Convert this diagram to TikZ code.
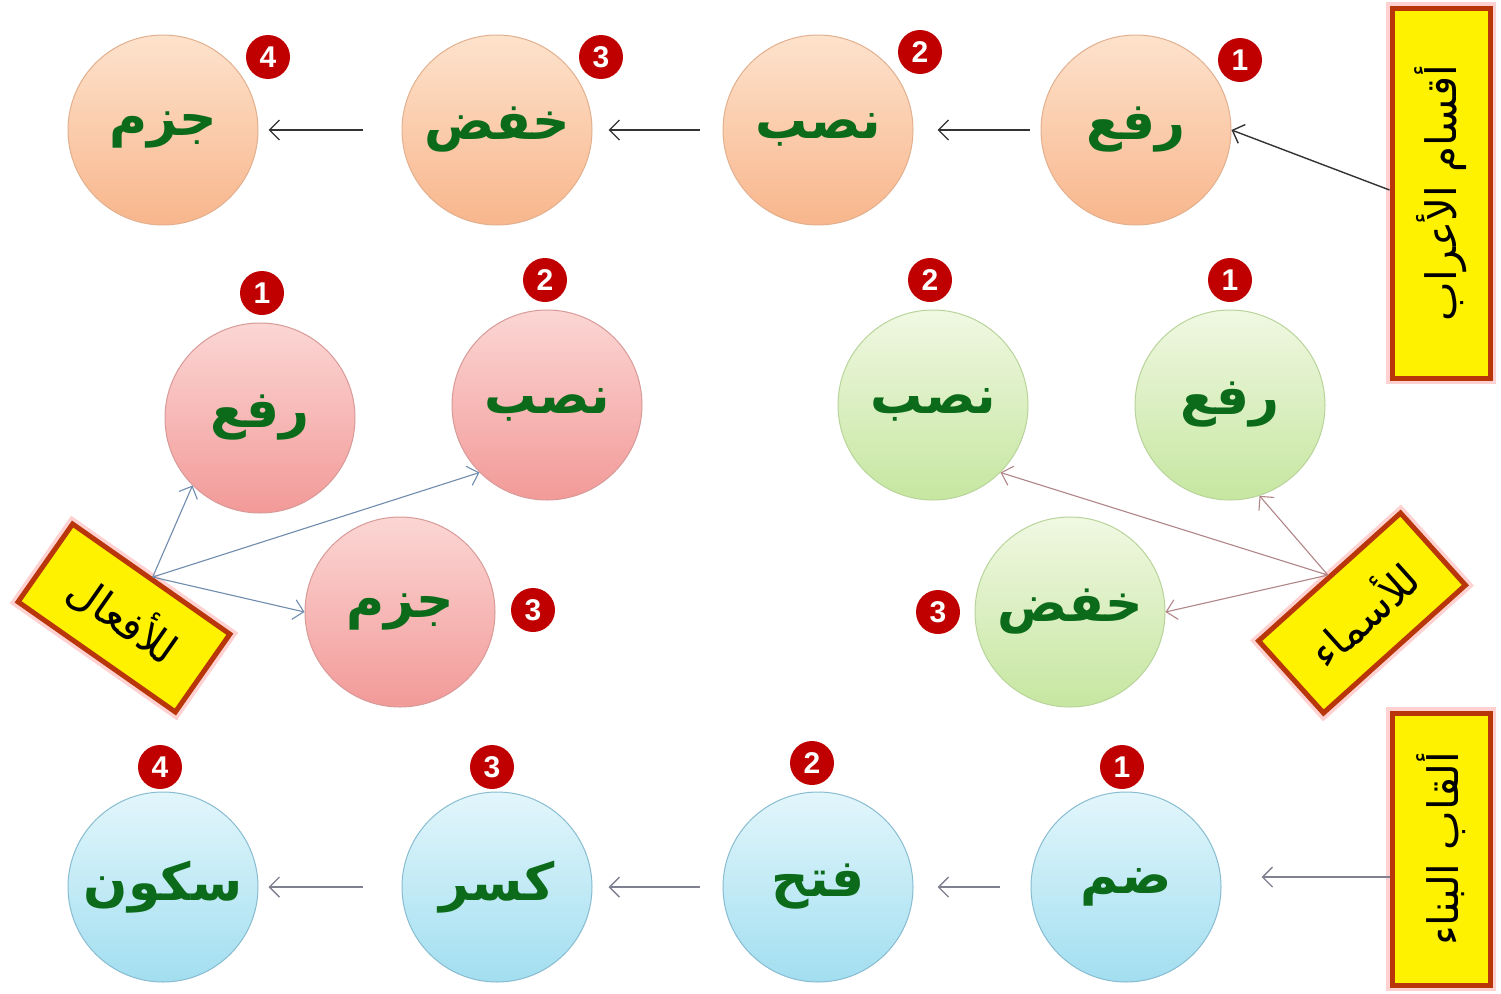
\documentclass[tikz,border=0pt]{standalone}
\usepackage{fontspec}
\newfontfamily\arabicfont[Script=Arabic]{DejaVu Sans}
\newfontfamily\numfont{Liberation Sans}
\TeXXeTstate=1
\usetikzlibrary{arrows.meta}
\definecolor{wordgreen}{HTML}{0B6B1A}
\definecolor{badgered}{HTML}{C00000}
\definecolor{boxborder}{HTML}{B8360A}
\definecolor{orangetop}{HTML}{FDE2CC}
\definecolor{orangebot}{HTML}{F8B68C}
\definecolor{orangeline}{HTML}{E2B08E}
\definecolor{redtop}{HTML}{FBD6D4}
\definecolor{redbot}{HTML}{F29A98}
\definecolor{redline}{HTML}{D89A98}
\definecolor{greentop}{HTML}{F0F8E2}
\definecolor{greenbot}{HTML}{C6E6A0}
\definecolor{greenline}{HTML}{B8D49A}
\definecolor{bluetop}{HTML}{E2F6FB}
\definecolor{bluebot}{HTML}{A2DEF0}
\definecolor{blueline}{HTML}{88BCD0}
\definecolor{arrowblue}{HTML}{6F8CAE}
\definecolor{arrowpink}{HTML}{B08588}
\definecolor{arrowgray}{HTML}{7F8090}
\begin{document}
\begin{tikzpicture}[x=1pt,y=-1pt,
  ball/.style={circle, minimum size=190pt, inner sep=0pt, line width=1pt,
    font=\arabicfont\bfseries\fontsize{52}{60}\selectfont, text=wordgreen},
  orangeball/.style={ball, top color=orangetop, bottom color=orangebot, draw=orangeline},
  redball/.style={ball, top color=redtop, bottom color=redbot, draw=redline},
  greenball/.style={ball, top color=greentop, bottom color=greenbot, draw=greenline},
  blueball/.style={ball, top color=bluetop, bottom color=bluebot, draw=blueline},
  badge/.style={circle, fill=badgered, minimum size=44pt, inner sep=0pt, text=white,
    font=\numfont\bfseries\fontsize{30}{30}\selectfont},
  ybox/.style={rectangle, fill=yellow, draw=boxborder, line width=5pt, inner sep=0pt,
    preaction={draw=red!18, line width=12pt},
    font=\arabicfont\fontsize{42}{50}\selectfont, text=black},
  arr/.style={-{Straight Barb[length=10pt,width=20pt]}, line width=1.4pt}
]
\useasboundingbox (0,0) rectangle (1501,993);
\fill[white] (0,0) rectangle (1501,993);

% yellow boxes
\node[ybox, rotate=90, minimum width=370pt, minimum height=98pt] (b1) at (1441,193) {\beginR أقسام الأعراب\endR};
\node[ybox, rotate=90, minimum width=272pt, minimum height=98pt] (b2) at (1441,849) {\beginR ألقاب البناء\endR};
\node[ybox, rotate=-35, minimum width=192pt, minimum height=95pt] (bA) at (124,618) {\beginR للأفعال\endR};
\node[ybox, rotate=42, minimum width=191pt, minimum height=97pt] (bB) at (1362,613) {\beginR للأسماء\endR};

% top row
\node[orangeball] (o1) at (1136,130) {\beginR رفع\endR};
\node[orangeball] (o2) at (818,130) {\beginR نصب\endR};
\node[orangeball] (o3) at (497,130) {\beginR خفض\endR};
\node[orangeball] (o4) at (163,130) {\beginR جزم\endR};
\node[badge] (n1) at (1240,60) {1};
\node[badge] (n2) at (920,52) {2};
\node[badge] (n3) at (601,57) {3};
\node[badge] (n4) at (268,57) {4};

% verbs (red)
\node[redball] (r1) at (260,418) {\beginR رفع\endR};
\node[redball] (r2) at (547,405) {\beginR نصب\endR};
\node[redball] (r3) at (400,612) {\beginR جزم\endR};
\node[badge] (rn1) at (262,293) {1};
\node[badge] (rn2) at (545,280) {2};
\node[badge] (rn3) at (533,610) {3};

% nouns (green)
\node[greenball] (g1) at (1230,405) {\beginR رفع\endR};
\node[greenball] (g2) at (933,405) {\beginR نصب\endR};
\node[greenball] (g3) at (1070,612) {\beginR خفض\endR};
\node[badge] (gn1) at (1230,280) {1};
\node[badge] (gn2) at (930,280) {2};
\node[badge] (gn3) at (938,612) {3};

% bottom row (blue)
\node[blueball] (c1) at (1126,887) {\beginR ضم\endR};
\node[blueball] (c2) at (818,887) {\beginR فتح\endR};
\node[blueball] (c3) at (497,887) {\beginR كسر\endR};
\node[blueball] (c4) at (163,887) {\beginR سكون\endR};
\node[badge] (cn1) at (1122,767) {1};
\node[badge] (cn2) at (812,763) {2};
\node[badge] (cn3) at (492,767) {3};
\node[badge] (cn4) at (160,767) {4};

% top row arrows
\draw[arr, draw=black!80] (b1.north |- 0,190) -- (o1.east);
\draw[arr, draw=black!80, shorten <=11pt, shorten >=24pt] (o1.west) -- (o2.east);
\draw[arr, draw=black!80, shorten <=23pt, shorten >=16pt] (o2.west) -- (o3.east);
\draw[arr, draw=black!80, shorten <=39pt, shorten >=10pt] (o3.west) -- (o4.east);

% verbs arrows
\draw[arr, draw=arrowblue, line width=1.1pt] (bA.north) -- (r1.-135);
\draw[arr, draw=arrowblue, line width=1.1pt] (bA.north) -- (r2.-135);
\draw[arr, draw=arrowblue, line width=1.1pt] (bA.north) -- (r3.west);

% nouns arrows
\draw[arr, draw=arrowpink, line width=1.1pt] (bB.north) -- (g1.-72);
\draw[arr, draw=arrowpink, line width=1.1pt] (bB.north) -- (g2.-45);
\draw[arr, draw=arrowpink, line width=1.1pt] (bB.north) -- (g3.east);

% bottom row arrows
\draw[arr, draw=arrowgray, shorten >=40pt] (b2.north |- 0,877) -- (c1.east |- 0,877);
\draw[arr, draw=arrowgray, shorten <=31pt, shorten >=24pt] (c1.west) -- (c2.east);
\draw[arr, draw=arrowgray, shorten <=23pt, shorten >=16pt] (c2.west) -- (c3.east);
\draw[arr, draw=arrowgray, shorten <=39pt, shorten >=10pt] (c3.west) -- (c4.east);
\end{tikzpicture}
\end{document}
